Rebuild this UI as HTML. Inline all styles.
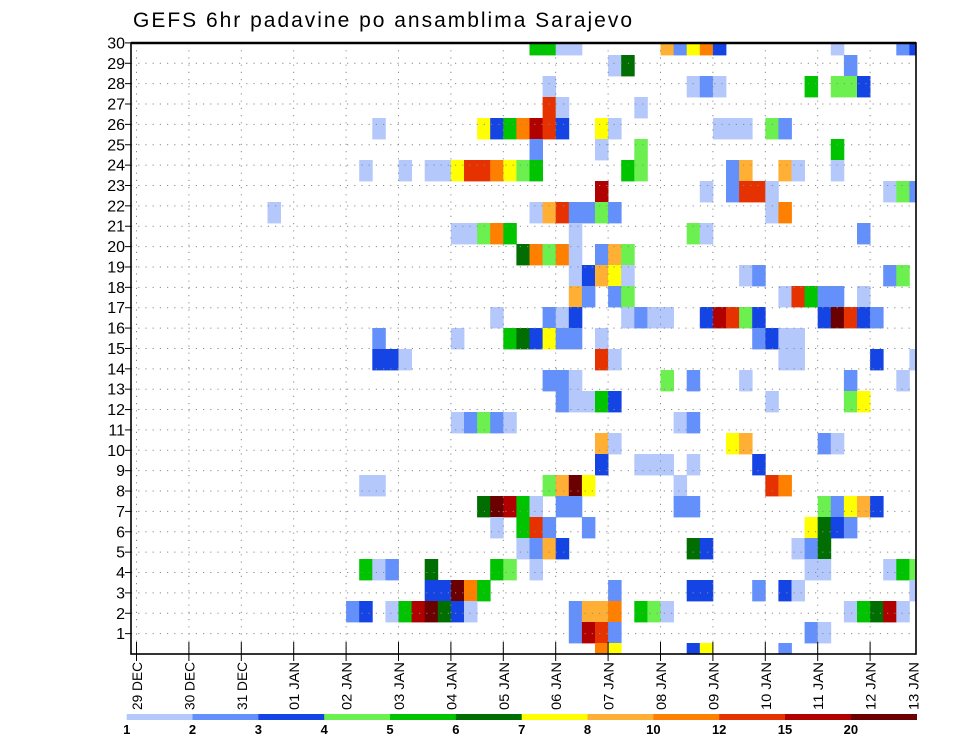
<!DOCTYPE html>
<html>
<head>
<meta charset="utf-8">
<style>
  html,body{margin:0;padding:0;background:#fff;}
  svg{display:block;font-family:"Liberation Sans",sans-serif;}
</style>
</head>
<body>
<svg id="chart" width="960" height="742" viewBox="0 0 960 742" xmlns="http://www.w3.org/2000/svg">
  <rect x="0" y="0" width="960" height="742" fill="#fff"/>
  <text x="133" y="27" font-size="21" textLength="499" lengthAdjust="spacing" fill="#000">GEFS 6hr padavine po ansamblima Sarajevo</text>
  <defs><clipPath id="plotclip"><rect x="131" y="43" width="785" height="611"/></clipPath></defs>
  <g id="cells" clip-path="url(#plotclip)"></g>
  <g id="grid"></g>
  <g id="axes"></g>
  <g id="legend"></g>
</svg>
<script>
// ---- data ----
const members = [30,29,28,27,26,25,24,23,22,21,20,19,18,17,16,15,14,13,12,11,10,9,8,7,6,5,4,3,2,1];
// 6-hour step index from 29 DEC 00Z for each cell in each member row
const rowSteps = [
  [30,31,32,33,40,41,42,43,44,53,58,59],
  [36,37,54],
  [31,42,43,44,51,53,54,55],
  [31,32,38],
  [18,26,27,28,29,30,31,32,35,36,44,45,46,48,49],
  [30,35,38,53],
  [17,20,22,23,24,25,26,27,28,29,30,37,38,45,46,49,50,53],
  [35,43,45,46,47,48,57,58,59],
  [10,30,31,32,33,34,35,36,48,49],
  [24,25,26,27,28,33,42,43,55],
  [29,30,31,32,33,35,36,37],
  [33,34,35,36,37,46,47,57,58],
  [33,34,36,37,49,50,51,52,53,55],
  [27,31,32,33,37,38,39,40,43,44,45,46,47,52,53,54,55,56],
  [18,24,28,29,30,31,32,33,35,47,48,49,50],
  [18,19,20,35,36,49,50,56,59],
  [31,32,33,40,42,46,54,58],
  [32,33,34,35,36,48,54,55],
  [24,25,26,27,28,41,42],
  [35,36,45,46,52,53],
  [35,38,39,40,42,47],
  [17,18,31,32,33,34,41,48,49],
  [26,27,28,29,30,32,33,41,42,52,53,54,55,56],
  [27,29,30,31,34,51,52,53,54],
  [29,30,31,32,42,43,50,51,52],
  [17,18,19,22,27,28,30,51,52,57,58,59],
  [22,23,24,25,26,36,42,43,47,49,50,59],
  [16,17,19,20,21,22,23,24,25,33,34,35,36,38,39,40,54,55,56,57,58],
  [33,34,35,36,51,52],
  [35,36,42,43,49]
];
// precipitation class (index into legend levels) for each cell
const rowClasses = [
  [4,4,0,0,7,1,6,8,2,0,1,2],
  [0,5,1],
  [0,0,1,0,4,3,3,2],
  [9,0,0],
  [0,6,2,4,8,10,9,2,6,0,0,0,0,3,1],
  [1,0,3,4],
  [0,0,0,0,6,9,9,8,6,3,4,4,3,1,7,7,0,0],
  [10,0,1,9,9,0,0,3,1],
  [0,0,7,9,1,1,3,1,0,8],
  [0,0,3,8,4,0,3,0,1],
  [5,8,3,8,0,1,7,3],
  [0,2,7,6,0,0,1,1,3],
  [7,1,1,3,0,9,4,1,1,0],
  [0,1,0,2,0,1,0,0,2,10,9,3,2,2,11,9,2,1],
  [1,0,4,5,2,6,1,1,0,1,2,0,0],
  [2,2,0,9,0,0,0,2,0],
  [1,1,0,3,1,0,1,0],
  [1,0,0,4,2,0,3,6],
  [0,1,3,1,0,0,1],
  [7,0,6,7,1,0],
  [2,0,0,0,0,2],
  [0,0,3,7,11,6,0,9,8],
  [5,11,10,4,0,1,1,1,1,3,1,6,7,2],
  [0,4,9,1,1,6,5,2,1],
  [0,1,7,2,5,2,0,1,5],
  [4,0,1,5,4,3,0,0,0,0,4,3],
  [2,2,11,8,4,1,2,2,1,2,0,0],
  [1,2,0,4,10,11,5,2,0,1,7,7,8,4,3,0,0,4,5,10,0],
  [1,10,9,1,1,0],
  [8,6,2,6,1]
];
const levelLabels = ["1","2","3","4","5","6","7","8","10","12","15","20"];
const dayLabels = ["29 DEC","30 DEC","31 DEC","01 JAN","02 JAN","03 JAN","04 JAN","05 JAN","06 JAN","07 JAN","08 JAN","09 JAN","10 JAN","11 JAN","12 JAN","13 JAN"];
const yTicks = [1,2,3,4,5,6,7,8,9,10,11,12,13,14,15,16,17,18,19,20,21,22,23,24,25,26,27,28,29,30];

// ---- styles / scales ----
const palette = ["#b4c8fc","#6490fc","#1444e4","#6cf050","#00c400","#006e00","#ffff00","#ffb034","#ff8000","#e63200","#b00000","#6a0000"];
const NS = "http://www.w3.org/2000/svg";
const PL = 131, PR = 916, PT = 43, PB = 654;
const X0 = 136.5, STEP = 13.1, DAY = 52.4;
function xStep(s){ return X0 + s*STEP; }
function xDay(d){ return X0 + d*DAY; }
function yMemberTop(m){ return 55 + (29 - m)*21; }
function yTick(n){ return PB - n*20.37; }
function mk(tag, attrs, parent){
  const e = document.createElementNS(NS, tag);
  for (const k in attrs) e.setAttribute(k, attrs[k]);
  parent.appendChild(e);
  return e;
}
const gCells = document.getElementById('cells');
const gGrid = document.getElementById('grid');
const gAxes = document.getElementById('axes');
const gLeg = document.getElementById('legend');

// ---- cells ----
members.forEach((m, r) => {
  rowSteps[r].forEach((s, i) => {
    const c = rowClasses[r][i];
    const el = mk('rect', {x: xStep(s), y: yMemberTop(m), width: STEP+0.4, height: 21.4, fill: palette[c]}, gCells);
    
    
  });
});

// ---- grid ----
for (let d = 0; d < 15; d++) {
  const el = mk('line', {x1: xDay(d), x2: xDay(d), y1: PT, y2: PB, stroke: '#8a8a8a', 'stroke-width': 1, 'stroke-dasharray': '1.2 6'}, gGrid);
  
  
}
yTicks.forEach(n => {
  if (n >= 30) return;
  const el = mk('line', {x1: PL, x2: PR, y1: yTick(n), y2: yTick(n), stroke: '#8a8a8a', 'stroke-width': 1, 'stroke-dasharray': '1.2 6'}, gGrid);
  
  
});

// ---- axes ----
const frame = mk('rect', {x: PL, y: PT, width: PR-PL, height: PB-PT, fill: 'none', stroke: '#000', 'stroke-width': 1.6}, gAxes);


const topLine = mk('line', {x1: PL, x2: PR, y1: PT, y2: PT, stroke: '#000', 'stroke-width': 2.4}, gAxes);



yTicks.forEach(n => {
  const y = yTick(n);
  const t = mk('line', {x1: PL-6, x2: PL, y1: y, y2: y, stroke: '#000', 'stroke-width': 1}, gAxes);
  
  
  const lb = mk('text', {x: PL-6, y: y+5.5, 'font-size': 16, 'text-anchor': 'end', fill: '#000'}, gAxes);
  lb.textContent = n;
  
  
});

dayLabels.forEach((lab, d) => {
  let x = xDay(d);
  if (x > PR) x = PR - 3;
  if (d < 15) {
    const t = mk('line', {x1: xDay(d), x2: xDay(d), y1: PB-12, y2: PB+7, stroke: '#000', 'stroke-width': 1}, gAxes);
    
    
  }
  const tx = mk('text', {transform: 'translate(' + (x+5.5) + ',662) rotate(-90)', 'font-size': 14, 'text-anchor': 'end', textLength: 48, lengthAdjust: 'spacingAndGlyphs', fill: '#000'}, gAxes);
  tx.textContent = lab;
  
  
});

// ---- legend ----
const LX = 126.7, LW = (916.7 - 126.7) / 12;
palette.forEach((col, i) => {
  const r = mk('rect', {x: LX + i*LW, y: 714, width: LW+0.3, height: 6, fill: col}, gLeg);
  
  
});
levelLabels.forEach((lab, i) => {
  const t = mk('text', {x: LX + i*LW, y: 734, 'font-size': 13, 'font-weight': 'bold', 'text-anchor': 'middle', fill: '#000'}, gLeg);
  t.textContent = lab;
  
  
});
</script>
</body>
</html>
